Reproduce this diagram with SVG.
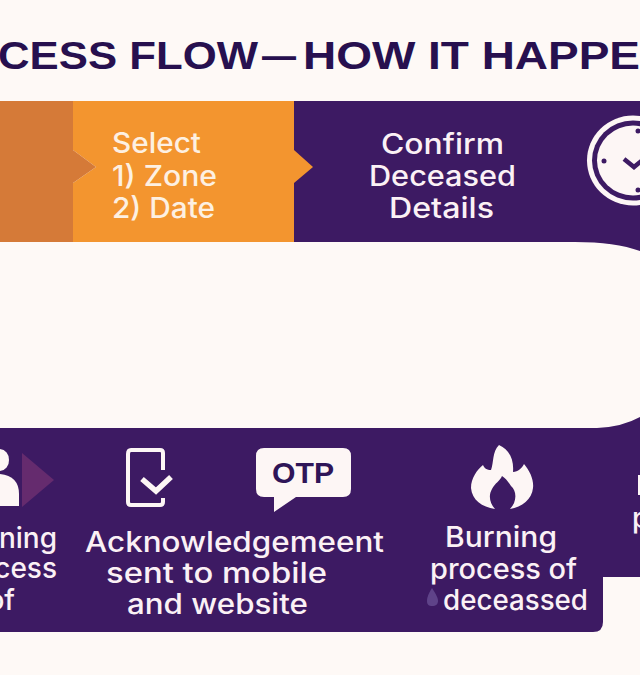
<svg xmlns="http://www.w3.org/2000/svg" width="640" height="675" viewBox="0 0 640 675">
<style>
.t{font-family:"Inter","Liberation Sans",sans-serif;font-weight:500;font-size:28px}
.l{fill:#fdf0e2}.w{fill:#fbf1f5}
.h{font-family:"Liberation Sans",sans-serif;font-weight:700;font-size:39px;fill:#27104f}
.s{fill:none;stroke:#fdf6f5}
.p{fill:#3d1a63}
</style>
<rect width="640" height="675" fill="#fef9f6"/>
<text class="h" y="69"><tspan x="-2" textLength="260" lengthAdjust="spacingAndGlyphs">CESS FLOW</tspan><tspan x="262" textLength="34" lengthAdjust="spacingAndGlyphs">—</tspan><tspan x="303" textLength="337" lengthAdjust="spacingAndGlyphs">HOW IT HAPPE</tspan></text>
<g id="connectors">
<path id="band-top" class="p" d="M294 101H640V251Q615 242 575 242H294Z"/>
<path id="band-bottom" class="p" d="M0 428H597Q622 427 640 417V577H603V622Q603 632 593 632H0Z"/>
</g>
<g id="node-prev"><rect y="101" width="73" height="141" fill="#d57a38"/></g>
<g id="node-select">
<path d="M73 101H294V242H73V183L96 167L73 150Z" fill="#f3952f"/>
<path d="M73 150L96 167L73 183Z" fill="#d57a38"/>
<path d="M294 150L313 167L294 183Z" fill="#f3952f"/>
<text class="t l" x="112" y="153" textLength="89" lengthAdjust="spacingAndGlyphs">Select</text>
<text class="t l" x="112" y="186" textLength="105" lengthAdjust="spacingAndGlyphs">1) Zone</text>
<text class="t l" x="112" y="218" textLength="103" lengthAdjust="spacingAndGlyphs">2) Date</text>
</g>
<g id="node-confirm">
<text class="t w" x="381" y="154" textLength="123" lengthAdjust="spacingAndGlyphs">Confirm</text>
<text class="t w" x="369" y="186" textLength="147" lengthAdjust="spacingAndGlyphs">Deceased</text>
<text class="t w" x="389" y="218" textLength="105" lengthAdjust="spacingAndGlyphs">Details</text>
</g>
<g id="node-clock">
<ellipse cx="633" cy="160.500" rx="46" ry="45" fill="#fdf6f5"/>
<ellipse cx="633" cy="160.500" rx="41" ry="40" class="p"/>
<ellipse cx="633" cy="160.500" rx="36" ry="35" fill="#fdf6f5"/>
<g class="p"><circle cx="604" cy="161" r="2.500"/><circle cx="638" cy="131" r="2.500"/><circle cx="638" cy="190" r="2.500"/></g>
<path d="M624 159L634 167L644 159" fill="none" stroke="#3d1a63" stroke-width="4.500"/>
</g>
<g id="node-burning-left">
<path d="M0 449A10 10.500 0 0 1 9 460A10 10.500 0 0 1 0 471Z" fill="#fdf6f5"/>
<path d="M0 474Q19 476 19 494V506H0Z" fill="#fdf6f5"/>
<path d="M22 453L54 480L22 507Z" fill="#652b6e"/>
<text class="t w" x="57" y="548" text-anchor="end">ning</text>
<text class="t w" x="57" y="578" text-anchor="end">cess</text>
<text class="t w" x="15" y="610" text-anchor="end">of</text>
</g>
<g id="node-ack">
<path class="s" stroke-width="4" d="M163 470V453Q163 450 160 450H131Q128 450 128 454V502Q128 505 131 505H160Q163 505 163 502V498"/>
<path class="s" stroke-width="5.500" d="M142 479L156 491L171 477"/>
<text class="t w" x="85" y="552" textLength="299" lengthAdjust="spacingAndGlyphs">Acknowledgemeent</text>
<text class="t w" x="106" y="583" textLength="221" lengthAdjust="spacingAndGlyphs">sent to mobile</text>
<text class="t w" x="127" y="614" textLength="181" lengthAdjust="spacingAndGlyphs">and website</text>
</g>
<g id="node-otp">
<path d="M264 448H343Q351 448 351 456V489Q351 497 343 497H296L274 512V497H264Q256 497 256 489V456Q256 448 264 448Z" fill="#fdf6f5"/>
<text x="272" y="483" textLength="62" lengthAdjust="spacingAndGlyphs" font-family="Liberation Sans, sans-serif" font-weight="700" font-size="30" fill="#2f1558">OTP</text>
</g>
<g id="node-burning">
<path d="M499 445C510 450 514 460 513 472C518 472 522 468 524 464C530 471 534 480 533 488C532 499 522 507 510 509C517 502 517 491 511 486C508 481 505 478 502 476C500 481 495 483 492 489C488 496 490 503 495 509C482 507 472 500 471 488C471 478 477 470 483 465C484 468 487 470 491 470C494 462 492 452 499 445Z" fill="#fdf6f5"/>
<text class="t w" x="445" y="547" textLength="112" lengthAdjust="spacingAndGlyphs">Burning</text>
<text class="t w" x="430" y="579" textLength="147" lengthAdjust="spacingAndGlyphs">process of</text>
<text class="t w" x="443" y="610" textLength="145" lengthAdjust="spacingAndGlyphs">deceassed</text>
<path d="M432 588C428 594 427 598 427 601C427 605 429 606 432 606C436 606 438 604 438 601C438 598 436 594 432 588Z" fill="#5f4389"/>
</g>
<g id="node-edge">
<path d="M640 475V495H638V475Z" fill="#fdf6f5"/>
<text class="t w" x="632" y="528">p</text>
</g>
</svg>
